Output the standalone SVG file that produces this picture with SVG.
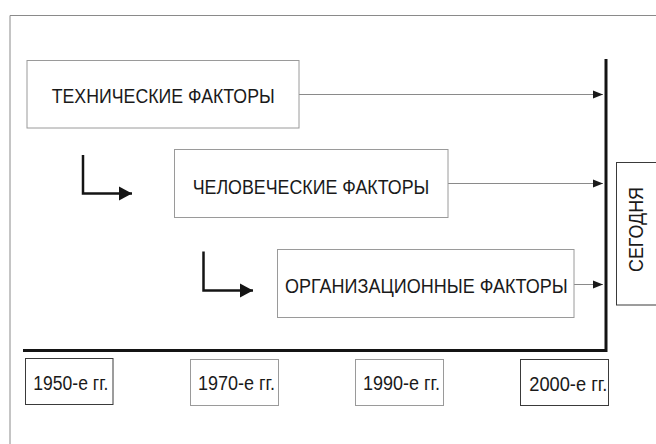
<svg xmlns="http://www.w3.org/2000/svg" width="656" height="444" viewBox="0 0 656 444">
  <style>
    .box { fill: #ffffff; stroke: #9a9a9a; stroke-width: 1; }
    .dark { stroke: #3a3a3a; }
    .lbl { font-family: "Liberation Sans", Arial, sans-serif; font-size: 20px; fill: #1a1a1a; }
    .thin { stroke: #8a8a8a; stroke-width: 1; fill: none; }
    .thick { stroke: #141414; stroke-width: 3; fill: none; }
    .bent { stroke: #141414; stroke-width: 2.5; fill: none; }
  </style>
  <defs>
    <marker id="ah" markerUnits="userSpaceOnUse" markerWidth="11" markerHeight="9" refX="10" refY="4.5" orient="auto">
      <path d="M0,0.5 L10,4.5 L0,8.5 Z" fill="#1a1a1a"/>
    </marker>
    <marker id="bh" markerUnits="userSpaceOnUse" markerWidth="14" markerHeight="16" refX="13" refY="8" orient="auto">
      <path d="M0,1 L13,8 L0,15 Z" fill="#141414"/>
    </marker>
  </defs>
  <rect width="656" height="444" fill="#ffffff"/>
  <g id="frame">
    <path d="M10,450 L10,15.5 L660,15.5" fill="none" stroke="#8a8a8a" stroke-width="1"/>
  </g>
  <g id="connectors">
    <line class="thin" x1="299" y1="94.5" x2="603" y2="94.5" marker-end="url(#ah)"/>
    <line class="thin" x1="448" y1="183.5" x2="603" y2="183.5" stroke="#444" marker-end="url(#ah)"/>
    <line class="thin" x1="574" y1="284.5" x2="603" y2="284.5" stroke="#333" marker-end="url(#ah)"/>
    <path class="bent" d="M83,155 L83,193.5 L132,193.5" marker-end="url(#bh)"/>
    <path class="bent" d="M203.5,251.5 L203.5,290.5 L253,290.5" marker-end="url(#bh)"/>
    <path class="thick" d="M606,59 L606,350.5 L23,350.5"/>
  </g>
  <g id="tech">
    <rect class="box" x="27" y="60.5" width="272" height="67.5"/>
    <text class="lbl" x="51.7" y="103.3" textLength="223" lengthAdjust="spacingAndGlyphs">ТЕХНИЧЕСКИЕ ФАКТОРЫ</text>
  </g>
  <g id="human">
    <rect class="box" x="174.5" y="149.5" width="273.5" height="68" stroke="#555"/>
    <text class="lbl" x="192.7" y="194.3" textLength="236.6" lengthAdjust="spacingAndGlyphs">ЧЕЛОВЕЧЕСКИЕ ФАКТОРЫ</text>
  </g>
  <g id="org">
    <rect class="box" x="277.5" y="249.5" width="296.5" height="68"/>
    <text class="lbl" x="285" y="293.3" textLength="282.7" lengthAdjust="spacingAndGlyphs">ОРГАНИЗАЦИОННЫЕ ФАКТОРЫ</text>
  </g>
  <g id="today">
    <rect class="box dark" x="616.5" y="162.5" width="50" height="142.5"/>
    <text class="lbl" transform="translate(643.3,229.5) rotate(-90)" text-anchor="middle" textLength="85" lengthAdjust="spacingAndGlyphs">СЕГОДНЯ</text>
  </g>
  <g id="y1950">
    <rect class="box dark" x="25.5" y="358.5" width="87.5" height="46"/>
    <text class="lbl" x="33.3" y="390" textLength="75" lengthAdjust="spacingAndGlyphs">1950-е гг.</text>
  </g>
  <g id="y1970">
    <rect class="box" x="190.5" y="359.5" width="88" height="46"/>
    <text class="lbl" x="198" y="390" textLength="77" lengthAdjust="spacingAndGlyphs">1970-е гг.</text>
  </g>
  <g id="y1990">
    <rect class="box" x="355.5" y="359.5" width="88" height="46"/>
    <text class="lbl" x="363" y="390" textLength="77" lengthAdjust="spacingAndGlyphs">1990-е гг.</text>
  </g>
  <g id="y2000">
    <rect class="box dark" x="520.5" y="359.5" width="88" height="46"/>
    <text class="lbl" x="529.3" y="390.5" textLength="78" lengthAdjust="spacingAndGlyphs">2000-е гг.</text>
  </g>
</svg>
